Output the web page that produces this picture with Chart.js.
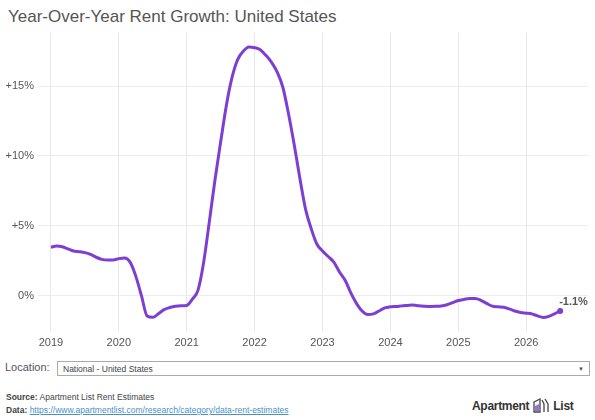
<!DOCTYPE html>
<html>
<head>
<meta charset="utf-8">
<script src="https://cdn.jsdelivr.net/npm/chart.js@4"></script>
<style>
  body { margin: 0; width: 595px; height: 420px; background: #fff; font-family: "Liberation Sans", Arial, sans-serif; position: relative; overflow: hidden; }
  #title { position: absolute; left: 8px; top: 7px; font-size: 17px; color: #555; }
  #wrap { position: absolute; left: 0; top: 0; width: 595px; height: 350px; }
  #loc { position: absolute; left: 5px; top: 361px; font-size: 11px; color: #555; }
  #sel { position: absolute; left: 57px; top: 361px; width: 533px; height: 15px; border: 1px solid #aaa; font-size: 8.5px; color: #444; line-height: 14px; box-sizing: border-box; padding-left: 5px; }
  #sel span { position: absolute; right: 5px; top: 0; font-size: 6px; color: #555; }
  #src { position: absolute; left: 6px; top: 391px; font-size: 8.5px; color: #444; line-height: 13px; }
  #src a { color: #4a8fd0; }
  #logo { position: absolute; left: 472px; top: 398px; font-size: 12px; color: #333; font-weight: bold; letter-spacing: -0.3px; display: flex; align-items: center; }
  #logo svg { margin: 0 3px; }
</style>
</head>
<body>
<div id="title">Year-Over-Year Rent Growth: United States</div>
<div id="wrap"><canvas id="chart"></canvas></div>
<div id="loc">Location:</div>
<div id="sel">National - United States<span>&#9660;</span></div>
<div id="src"><b>Source:</b> Apartment List Rent Estimates<br><b>Data:</b> <a href="#">https://www.apartmentlist.com/research/category/data-rent-estimates</a></div>
<div id="logo">Apartment<svg width="18" height="16" viewBox="0 0 18 16"><path d="M2 4 L8 1 L8 14 L2 14 Z" fill="none" stroke="#444" stroke-width="1.3"/><path d="M10 2 L12 6 L12 14 M13 1 L16 6 L16 14" fill="none" stroke="#444" stroke-width="1.3"/><path d="M3 8 L7 6 L7 13 L3 13 Z" fill="#9b6fe0"/></svg>List</div>
<script>
// monthly YoY rent growth, Jan 2019 .. Jul 2026
var startYear = 2019;
var growth = [
  3.47, 3.55, 3.5, 3.35, 3.2, 3.15, 3.08, 2.95, 2.75, 2.6, 2.55, 2.55,
  2.65, 2.7, 2.4, 1.4, 0.0, -1.45, -1.55, -1.3, -1.0, -0.85, -0.75, -0.72,
  -0.7, -0.25, 0.4, 2.4, 5.3, 8.3, 11.0, 13.6, 15.6, 16.9, 17.5, 17.8,
  17.75, 17.6, 17.2, 16.7, 16.0, 14.9, 13.0, 10.8, 8.4, 6.2, 4.8, 3.7,
  3.2, 2.8, 2.4, 1.7, 1.1, 0.2, -0.55, -1.1, -1.35, -1.3, -1.1, -0.88,
  -0.8, -0.77, -0.73, -0.7, -0.67, -0.72, -0.75, -0.77, -0.76, -0.74, -0.65, -0.5,
  -0.35, -0.27, -0.2, -0.2, -0.33, -0.55, -0.75, -0.8, -0.83, -0.95, -1.1, -1.2,
  -1.25, -1.3, -1.45, -1.56, -1.48, -1.3, -1.1
];
var yearTicks = [2019, 2020, 2021, 2022, 2023, 2024, 2025, 2026];
var yTicks = [0, 5, 10, 15];
var yTickLabels = ["0%", "+5%", "+10%", "+15%"];
var lastLabel = "-1.1%";

var points = growth.map(function (v, i) { return { x: startYear + i / 12, y: v }; });

var endLabel = {
  id: 'endLabel',
  afterDatasetsDraw: function (chart) {
    var meta = chart.getDatasetMeta(0);
    var pt = meta.data[meta.data.length - 1];
    var c = chart.ctx;
    c.save();
    c.fillStyle = '#7d3fd3';
    c.beginPath();
    c.arc(pt.x, pt.y, 3, 0, Math.PI * 2);
    c.fill();
    c.fillStyle = '#555';
    c.font = 'bold 11px "Liberation Sans", Arial, sans-serif';
    c.textBaseline = 'alphabetic';
    c.fillText(lastLabel, pt.x - 1, pt.y - 6);
    c.restore();
  }
};

var ctx = document.getElementById("chart").getContext('2d');
var myChart = new Chart(ctx, {
  type: 'line',
  data: {
    datasets: [{
      data: points,
      borderColor: '#7d3fd3',
      borderWidth: 3,
      pointRadius: 0,
      cubicInterpolationMode: 'monotone'
    }]
  },
  options: {
    responsive: true,
    maintainAspectRatio: false,
    animation: false,
    layout: { padding: { top: 33, right: 7, left: 0, bottom: 0 } },
    plugins: { legend: { display: false }, tooltip: { enabled: false } },
    scales: {
      x: {
        type: 'linear',
        min: 2018.81,
        max: 2026.91,
        afterBuildTicks: function (s) { s.ticks = yearTicks.map(function (v) { return { value: v }; }); },
        afterFit: function (s) { s.height = 18; },
        ticks: { color: '#555', font: { size: 11 }, padding: 4, callback: function (v) { return String(v); } },
        grid: { color: '#e8e8e8', drawTicks: false },
        border: { display: false }
      },
      y: {
        min: -2.6,
        max: 18.8,
        afterBuildTicks: function (s) { s.ticks = yTicks.map(function (v) { return { value: v }; }); },
        afterFit: function (s) { s.width = 38; },
        ticks: { color: '#555', font: { size: 11 }, padding: 4, callback: function (v) { return yTickLabels[yTicks.indexOf(v)]; } },
        grid: { color: '#ececec', drawTicks: false },
        border: { display: false }
      }
    }
  },
  plugins: [endLabel]
});
</script>
</body>
</html>
